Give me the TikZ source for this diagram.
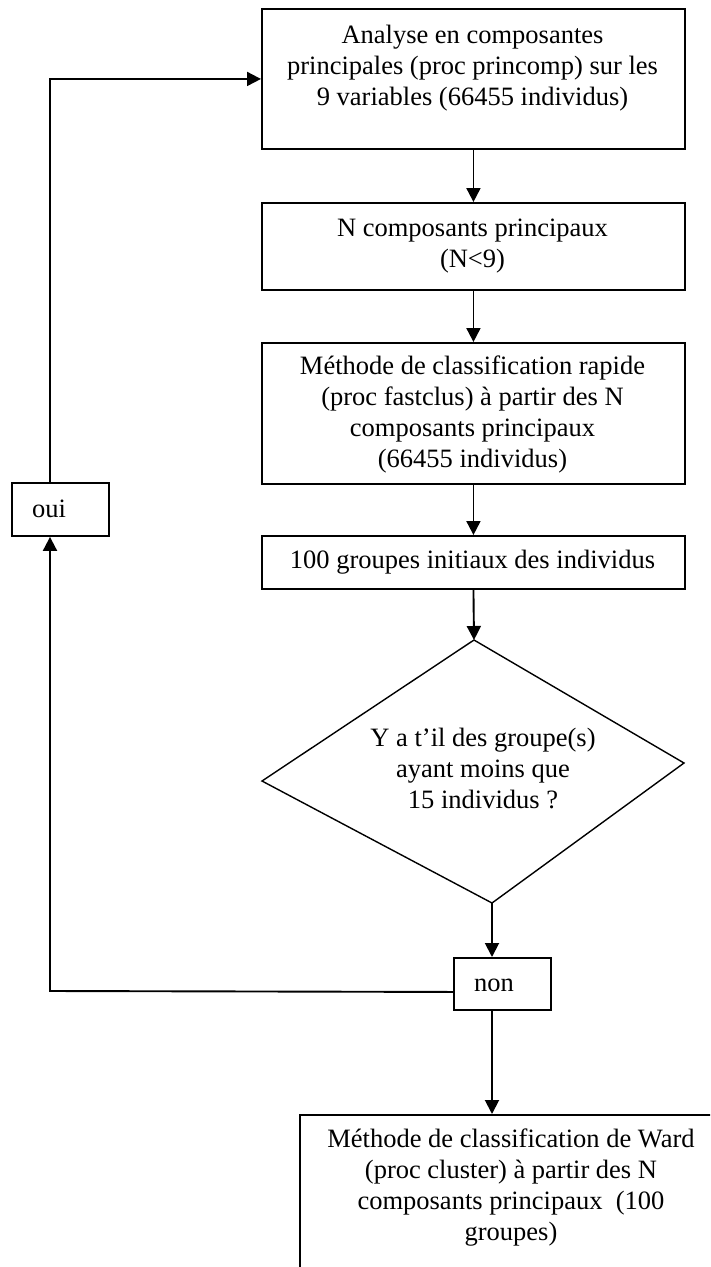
\documentclass[tikz,border=0pt]{standalone}
\usepackage{fontspec}
\setmainfont{Liberation Serif}
\usetikzlibrary{arrows.meta,calc}
\begin{document}
\begin{tikzpicture}[x=1pt,y=-1pt,
  box/.style={draw, line width=1.9pt, rectangle, inner sep=0pt, anchor=north west},
  txt/.style={align=center, font=\fontsize{26.5}{31}\selectfont, inner sep=0pt},
  arr/.style={line width=1.9pt, -{Triangle[length=14pt,width=14pt]}}]
\useasboundingbox (0,0) rectangle (710,1267);
\clip (0,0) rectangle (710,1267);
% boxes
\node[box, minimum width=423pt, minimum height=140pt] (b1) at (261,8) {};
\node[box, minimum width=423pt, minimum height=87pt] (b2) at (261,202) {};
\node[box, minimum width=423pt, minimum height=141pt] (b3) at (261,342) {};
\node[box, minimum width=423pt, minimum height=53pt] (b4) at (261,535) {};
\node[box, minimum width=97pt, minimum height=53pt] (oui) at (11,482) {};
\node[box, minimum width=97pt, minimum height=52pt] (non) at (453,957) {};
\node[box, minimum width=423pt, minimum height=200pt] (fin) at (299,1114) {};
% diamond
\coordinate (dtop) at (474,640);
\coordinate (dleft) at (262,781);
\coordinate (dright) at (684,763);
\coordinate (dbot) at (492,903);
\draw[line width=1.4pt, line join=miter] (dtop) -- (dright) -- (dbot) -- (dleft) -- cycle;
% texts
\node[txt] (t1) at (472.5,68) {Analyse en composantes\\principales (proc princomp) sur les\\9 variables (66455 individus)};
\node[txt] (t2) at (472.5,246) {N composants principaux\\(N<9)};
\node[txt] (t3) at (472.5,414) {Méthode de classification rapide\\(proc fastclus) à partir des N\\composants principaux\\(66455 individus)};
\node[txt] (t4) at (472.5,562) {100 groupes initiaux des individus};
\node[txt] (td) at (483,768) {Y a t’il des groupe(s)\\ayant moins que\\15 individus ?};
\node[txt] (toui) at (49,509) {oui};
\node[txt] (tnon) at (494,985) {non};
\node[txt] (tfin) at (511,1188) {Méthode de classification de Ward\\(proc cluster) à partir des N\\composants principaux\ \ (100\\groupes)};
% connectors
\draw[arr] (b1.south) -- (b2.north);
\draw[arr] (b2.south) -- (b3.north);
\draw[arr] (b3.south) -- (b4.north);
\draw[arr] (b4.south) -- (dtop);
\draw[arr] (dbot) -- (dbot |- non.north);
\draw[arr] (dbot |- non.south) -- (dbot |- fin.north);
\coordinate (loop) at (50,991);
\draw[arr] ($(non.west)+(0,8)$) -- (loop) -- (loop |- oui.south);
\draw[arr] (loop |- oui.north) |- (b1.west);
\end{tikzpicture}
\end{document}
